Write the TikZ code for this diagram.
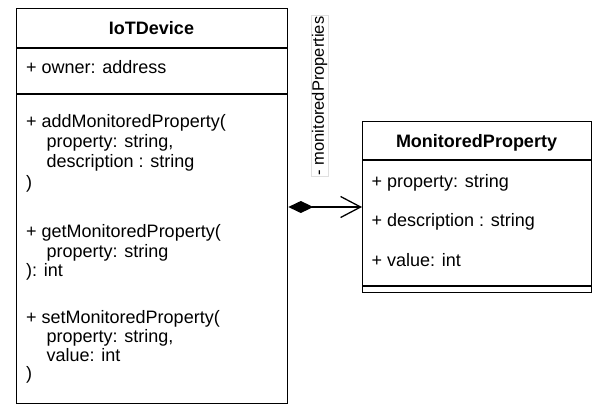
\documentclass[tikz,border=0pt]{standalone}
\usepackage{fontspec}
\setmainfont{Liberation Sans}
\usetikzlibrary{arrows.meta}

\tikzset{
  classbox/.style={draw=black, line width=1.3pt, fill=white, inner sep=0pt, anchor=north west},
  divider/.style={draw=black, line width=1.3pt},
  member/.style={anchor=base west, inner sep=0pt, font=\fontsize{18}{20}\selectfont},
  classname/.style={anchor=base, inner sep=0pt, font=\fontsize{18}{20}\selectfont\bfseries},
  rolelabel/.style={rotate=90, fill=white, draw=black!12, line width=0.6pt, inner sep=1pt,
    font=\fontsize{16.5}{18}\selectfont},
  composition/.style={line width=1.3pt,
    {Diamond[length=25pt,width=12pt]}-{Straight Barb[length=20pt,width=21pt,line width=1.3pt]}}
}

\begin{document}
\begin{tikzpicture}[x=1pt, y=-1pt]
  \useasboundingbox (0,0) rectangle (592,405);

  % IoTDevice class
  \node[classbox, minimum width=271pt, minimum height=395pt] (dev) at (16,8) {};
  \draw[divider] (16,48) -- (287,48);
  \draw[divider] (16,94) -- (287,94);
  \node[classname] (devname) at (151.5,34.5) {IoTDevice};
  \node[member] (owner) at (26,73.5) {+ owner: address};

  \node[member] (add1) at (26,127) {+ addMonitoredProperty(};
  \node[member] (add2) at (46.5,147) {property: string,};
  \node[member] (add3) at (46.5,167) {description : string};
  \node[member] (add4) at (26,188) {)};

  \node[member] (get1) at (26,237.5) {+ getMonitoredProperty(};
  \node[member] (get2) at (46.5,257) {property: string};
  \node[member] (get3) at (26,276.5) {): int};

  \node[member] (set1) at (26,323) {+ setMonitoredProperty(};
  \node[member] (set2) at (46.5,342) {property: string,};
  \node[member] (set3) at (46.5,361) {value: int};
  \node[member] (set4) at (26,379) {)};

  % MonitoredProperty class
  \node[classbox, minimum width=229pt, minimum height=171pt] (mp) at (362,121) {};
  \draw[divider] (362,160) -- (591,160);
  \draw[divider] (362,286) -- (591,286);
  \node[classname] (mpname) at (476.5,147.5) {MonitoredProperty};
  \node[member] (prop) at (371.5,187.5) {+ property: string};
  \node[member] (desc) at (371.5,226.5) {+ description : string};
  \node[member] (val) at (371.5,266) {+ value: int};

  % composition: IoTDevice owns its monitored properties
  \draw[composition] (dev.east |- 0,207) -- (mp.west |- 0,207);
  \node[rolelabel] (role) at (319.5,96) {- monitoredProperties};
\end{tikzpicture}
\end{document}
